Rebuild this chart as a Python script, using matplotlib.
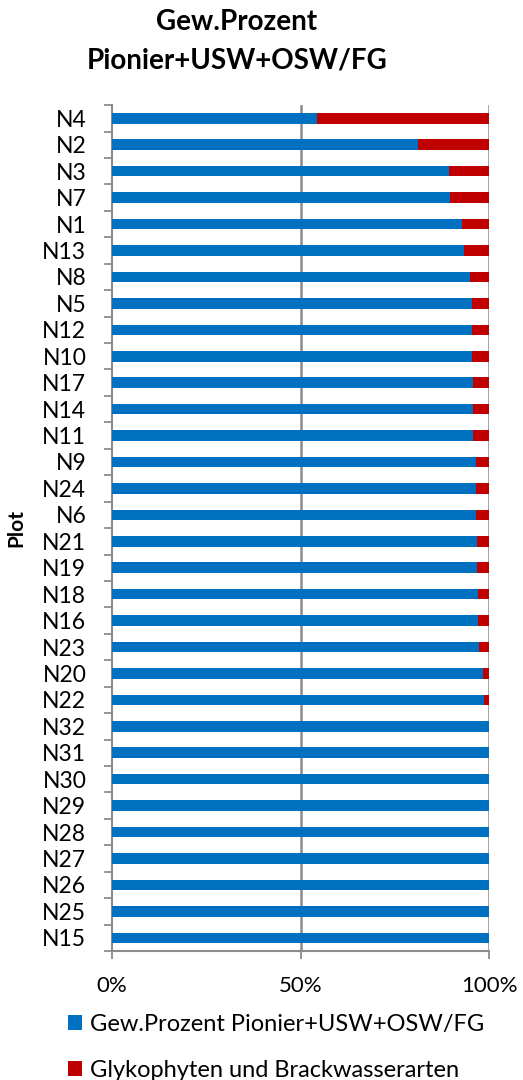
import matplotlib.pyplot as plt
import numpy as np

plt.rcParams['font.family'] = ['Lato', 'DejaVu Sans']

# plots, top to bottom
plots = ["N4", "N2", "N3", "N7", "N1", "N13", "N8", "N5", "N12", "N10",
         "N17", "N14", "N11", "N9", "N24", "N6", "N21", "N19", "N18", "N16",
         "N23", "N20", "N22", "N32", "N31", "N30", "N29", "N28", "N27", "N26",
         "N25", "N15"]

# weight percent per group
pionier = [54.3, 81.2, 89.3, 89.6, 92.7, 93.2, 94.8, 95.3, 95.3, 95.4,
           95.6, 95.6, 95.8, 96.4, 96.5, 96.6, 96.7, 96.7, 96.9, 96.9,
           97.4, 98.4, 98.7, 100, 100, 100, 100, 100, 100, 100,
           100, 100]
glyko = [45.7, 18.8, 10.7, 10.4, 7.3, 6.8, 5.2, 4.7, 4.7, 4.6,
         4.4, 4.4, 4.2, 3.6, 3.5, 3.4, 3.3, 3.3, 3.1, 3.1,
         2.6, 1.6, 1.3, 0, 0, 0, 0, 0, 0, 0,
         0, 0]

label_a = "Gew.Prozent Pionier+USW+OSW/FG"
label_b = "Glykophyten und Brackwasserarten"
blue = "#0070C0"
red = "#C00000"
grey = "#8C8C8C"

fig = plt.figure(figsize=(5.23, 10.8), dpi=100)
ax = fig.add_axes([0.2141, 0.1194, 0.7214, 0.7833])

y = np.arange(len(plots))
ax.barh(y, pionier, height=0.4, color=blue, label=label_a, zorder=3)
ax.barh(y, glyko, left=pionier, height=0.4, color=red, label=label_b, zorder=3)

ax.set_xlim(0, 100)
ax.set_ylim(len(plots) - 0.5, -0.5)

# gridlines
for gx in [50, 100]:
    ax.axvline(gx, color=grey, lw=1.8, zorder=1)

ax.set_xticks([0, 50, 100])
ax.set_xticklabels(["0%", "50%", "100%"], fontsize=16)
ax.set_yticks(y)
ax.set_yticklabels(plots, fontsize=16.5)
ax.set_yticks(np.arange(-0.5, len(plots), 1), minor=True)
ax.tick_params(axis='y', which='major', length=0, pad=18.5)
ax.tick_params(axis='y', which='minor', length=6, width=1.3, color=grey)
ax.tick_params(axis='x', length=6, width=1.3, color=grey, pad=12)

for side in ["top", "right"]:
    ax.spines[side].set_visible(False)
for side in ["left", "bottom"]:
    ax.spines[side].set_color(grey)
    ax.spines[side].set_linewidth(1.5)

ax.set_ylabel("Plot", fontsize=15, fontweight="bold")
ax.yaxis.set_label_coords(-0.228, 0.5)

fig.text(0.453, 0.972, "Gew.Prozent", ha="center", va="baseline",
         fontsize=20, fontweight="bold")
fig.text(0.453, 0.937, "Pionier+USW+OSW/FG", ha="center", va="baseline",
         fontsize=20, fontweight="bold")

fig.legend(loc="upper left", bbox_to_anchor=(0.107, 0.072), frameon=False,
           fontsize=17, handlelength=0.6, handleheight=0.6,
           handletextpad=0.35, labelspacing=1.05, borderpad=0)

fig.savefig("out.png", dpi=100)
